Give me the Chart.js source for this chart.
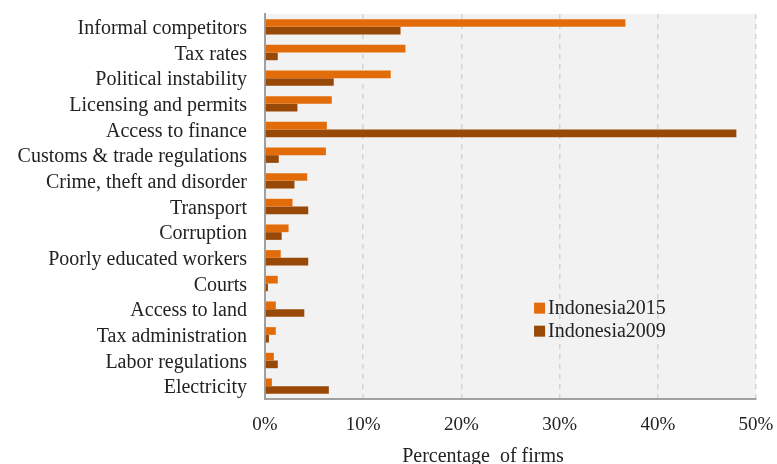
<!DOCTYPE html>
<html>
<head>
<meta charset="utf-8">
<script src="https://cdn.jsdelivr.net/npm/chart.js@4"></script>
<style>
  html, body { margin: 0; padding: 0; background: #fff; }
  #wrap { width: 777px; height: 464px; }
</style>
</head>
<body>
<div id="wrap"><canvas id="cv" width="777" height="464"></canvas></div>
<script>
// obstacles, top to bottom
const categories = [
  'Informal competitors', 'Tax rates', 'Political instability', 'Licensing and permits',
  'Access to finance', 'Customs & trade regulations', 'Crime, theft and disorder', 'Transport',
  'Corruption', 'Poorly educated workers', 'Courts', 'Access to land',
  'Tax administration', 'Labor regulations', 'Electricity'
];
const seriesNames = ['Indonesia2015', 'Indonesia2009'];
const values2015 = [36.7, 14.3, 12.8, 6.8, 6.3, 6.2, 4.3, 2.8, 2.4, 1.6, 1.3, 1.1, 1.1, 0.9, 0.7];
const values2009 = [13.8, 1.3, 7.0, 3.3, 48.0, 1.4, 3.0, 4.4, 1.7, 4.4, 0.3, 4.0, 0.4, 1.3, 6.5];
const xTicks = [0, 10, 20, 30, 40, 50];
const xTitle = 'Percentage  of firms';

const FONT = '"Liberation Serif", "DejaVu Serif", serif';
const colors = ['#e36c0a', '#984807'];

// grey plot background
const plotBg = {
  id: 'plotBg',
  beforeDraw(chart) {
    const { ctx, chartArea: a } = chart;
    ctx.save();
    ctx.fillStyle = '#f2f2f2';
    ctx.fillRect(a.left, a.top, a.right - a.left, a.bottom - a.top);
    ctx.restore();
  }
};

// legend inside the plot + axis title (sits left of plot centre in the original)
const extras = {
  id: 'extras',
  afterDraw(chart) {
    const ctx = chart.ctx;
    const x = chart.scales.x.getPixelForValue(27.4);
    const y0 = chart.scales.y.getPixelForValue(11) - 1;
    ctx.save();
    ctx.font = '20px ' + FONT;
    ctx.textBaseline = 'middle';
    chart.data.datasets.forEach((ds, i) => {
      const y = y0 + i * 23;
      ctx.fillStyle = ds.backgroundColor;
      ctx.fillRect(x, y - 5.5, 11, 11);
      ctx.fillStyle = '#222';
      ctx.fillText(ds.label, x + 14, y + 1);
    });
    ctx.textAlign = 'center';
    ctx.fillText(xTitle, chart.scales.x.getPixelForValue(22.2), chart.height - 7);
    ctx.restore();
  }
};

new Chart(document.getElementById('cv').getContext('2d'), {
  type: 'bar',
  data: {
    labels: categories,
    datasets: [
      { label: seriesNames[0], data: values2015, backgroundColor: colors[0] },
      { label: seriesNames[1], data: values2009, backgroundColor: colors[1] }
    ]
  },
  options: {
    indexAxis: 'y',
    responsive: false,
    animation: false,
    categoryPercentage: 0.6,
    barPercentage: 1.0,
    layout: { padding: { top: 14, right: 21, left: 0, bottom: 0 } },
    plugins: { legend: { display: false }, tooltip: { enabled: false } },
    scales: {
      x: {
        min: 0, max: 50,
        afterBuildTicks(s) { s.ticks = xTicks.map(v => ({ value: v })); },
        afterFit(s) { s.height = 65; s.paddingLeft = 0; s.paddingRight = 0; },
        ticks: {
          color: '#222',
          font: { family: FONT, size: 19 },
          padding: 15,
          callback: v => v + '%'
        },
        grid: {
          color: '#d4d4d4',
          lineWidth: 1.5,
          drawTicks: false
        },
        border: { display: true, color: '#a0a0a0', width: 2, dash: [5, 5] }
      },
      y: {
        afterFit(s) { s.width = 265; s.paddingTop = 0; s.paddingBottom = 0; },
        ticks: {
          color: '#222',
          font: { family: FONT, size: 20 },
          padding: 18,
          labelOffset: 2,
          autoSkip: false
        },
        grid: { display: false, drawTicks: false },
        border: { display: true, color: '#a0a0a0', width: 2 }
      }
    }
  },
  plugins: [plotBg, extras]
});
</script>
</body>
</html>
